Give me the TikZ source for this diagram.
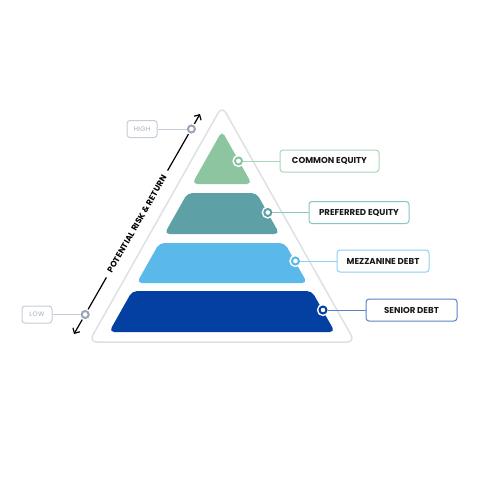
\documentclass[tikz,border=0pt]{standalone}
\usepackage{fontspec}
\setmainfont{Poppins}
\usetikzlibrary{arrows.meta}
\definecolor{cg}{HTML}{8DC5A0}
\definecolor{cgl}{HTML}{A8D6B8}
\definecolor{ct}{HTML}{5DA1A6}
\definecolor{ctl}{HTML}{8CC3C6}
\definecolor{cl}{HTML}{5BB9EA}
\definecolor{cll}{HTML}{90D0F2}
\definecolor{cd}{HTML}{0340A2}
\definecolor{cdl}{HTML}{5A84C8}
\definecolor{cgray}{HTML}{9AA4B6}
\definecolor{cgrayl}{HTML}{C6CDD8}
\definecolor{cgrayt}{HTML}{A4AEBE}
\definecolor{couter}{HTML}{DDE1E5}
\begin{document}
\begin{tikzpicture}[x=1pt,y=-1pt,
  layer/.style={rounded corners=5pt},
  lbl/.style={draw, rounded corners=3pt, line width=1pt, fill=white, minimum height=22pt, inner sep=0pt, text=black!90, font=\bfseries\fontsize{8.6}{8.6}\selectfont},
  glbl/.style={draw=cgrayl, rounded corners=3pt, line width=1pt, fill=white, minimum width=30pt, minimum height=17pt, inner sep=0pt, text=cgrayt, font=\fontsize{6.5}{6.5}\selectfont\addfontfeature{LetterSpace=6}},
  dotmark/.style={circle, line width=2pt, fill=white, minimum size=7pt, inner sep=0pt, preaction={draw=white, line width=5pt}},
  conn/.style={line width=1pt}]
\useasboundingbox (0,0) rectangle (480,480);
\fill[white] (0,0) rectangle (480,480);
% outer triangle
\draw[couter, line width=1.5pt, fill=white, rounded corners=8pt] (222,106) -- (355,342) -- (89,342) -- cycle;
% layers
\fill[cg, layer] (222,131) -- (251.9,184) -- (192.1,184) -- cycle;
\fill[ct, layer] (187.5,193) -- (256.5,193) -- (279.6,234) -- (164.4,234) -- cycle;
\fill[cl, layer] (159.3,243) -- (284.7,243) -- (307.2,283) -- (136.8,283) -- cycle;
\fill[cd, layer] (132.2,291) -- (311.8,291) -- (334.9,332) -- (109.1,332) -- cycle;
% labels
\node[lbl, draw=cgl, minimum width=99pt] (bg) at (329.5,161) {COMMON EQUITY};
\node[lbl, draw=ctl, minimum width=100pt] (bt) at (359,212.5) {PREFERRED EQUITY};
\node[lbl, draw=cll, minimum width=92pt] (bl) at (383,261) {MEZZANINE DEBT};
\node[lbl, draw=cdl, minimum width=91pt] (bd) at (411.5,310) {SENIOR DEBT};
% dots
\node[dotmark, draw=cg] (dg) at (238.5,161) {};
\node[dotmark, draw=ct] (dt) at (267.8,212.5) {};
\node[dotmark, draw=cl] (dl) at (295.4,261) {};
\node[dotmark, draw=cd] (dd) at (323,310) {};
\draw[conn, cgl] (dg) -- (bg);
\draw[conn, ctl] (dt) -- (bt);
\draw[conn, cll] (dl) -- (bl);
\draw[conn, cdl] (dd) -- (bd);
% risk arrow
\coordinate (lo) at (74,334);
\coordinate (hi) at (200,114);
\draw[line width=1.2pt, {Straight Barb[length=4pt,width=8pt]}-{Straight Barb[length=4pt,width=8pt]}] (lo) -- (hi)
  node[midway, sloped, fill=white, inner xsep=6pt, inner ysep=2pt, font=\bfseries\fontsize{8.3}{8.3}\selectfont\addfontfeature{LetterSpace=2}] (rr) {POTENTIAL RISK \& RETURN};
% high / low
\node[glbl] (bh) at (142,129) {HIGH};
\node[glbl] (blo) at (37,314.5) {LOW};
\node[dotmark, draw=cgray] (dh) at (191.4,129) {};
\node[dotmark, draw=cgray] (dlo) at (85.2,314.5) {};
\draw[conn, cgrayl] (bh) -- (dh);
\draw[conn, cgrayl] (blo) -- (dlo);
\end{tikzpicture}
\end{document}
